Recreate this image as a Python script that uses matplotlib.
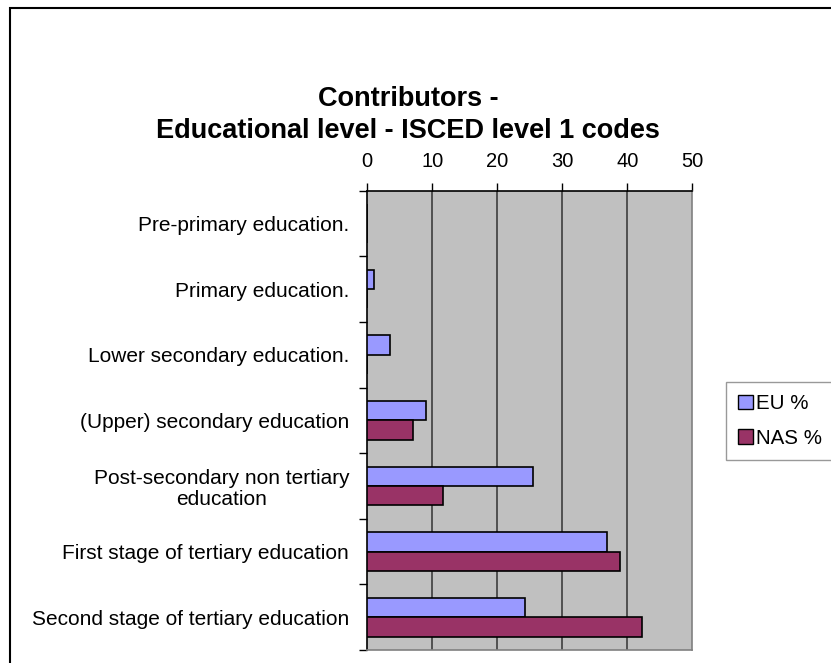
import matplotlib
matplotlib.use("Agg")
import matplotlib.pyplot as plt
from matplotlib.patches import Rectangle, Patch
import numpy as np

categories = [
    "Pre-primary education.",
    "Primary education.",
    "Lower secondary education.",
    "(Upper) secondary education",
    "Post-secondary non tertiary\neducation",
    "First stage of tertiary education",
    "Second stage of tertiary education",
]
eu_pct = [0, 1.1, 3.5, 9.0, 25.5, 36.9, 24.2]
nas_pct = [0, 0, 0, 7.1, 11.7, 38.8, 42.3]
series_names = ["EU %", "NAS %"]
x_ticks = [0, 10, 20, 30, 40, 50]
title_lines = ["Contributors -", "Educational level - ISCED level 1 codes"]

plt.rcParams["font.family"] = ["Liberation Sans", "DejaVu Sans"]

W, H = 831, 663
fig = plt.figure(figsize=(W / 100, H / 100), dpi=100)
fig.patch.set_facecolor("white")

# outer chart frame
fig.add_artist(Rectangle((9.5 / W, -0.1), 1.2, 1.1 - 8.5 / H,
                         transform=fig.transFigure, fill=False,
                         edgecolor="black", linewidth=1.5, clip_on=False))

ax = fig.add_axes([367.3 / W, 1 - 650 / H, 325 / W, (650 - 190.7) / H])
ax.set_facecolor("#C0C0C0")

y = np.arange(len(categories))
bh = 0.295
ax.barh(y - bh / 2, eu_pct, height=bh, color="#9999FF", edgecolor="black",
        linewidth=1.2, label=series_names[0], zorder=3)
ax.barh(y + bh / 2, nas_pct, height=bh, color="#993366", edgecolor="black",
        linewidth=1.2, label=series_names[1], zorder=3)

ax.set_xlim(0, 50)
ax.set_ylim(len(categories) - 0.5, -0.5)

ax.xaxis.tick_top()
ax.set_xticks(x_ticks)
ax.set_xticklabels([str(v) for v in x_ticks])
ax.tick_params(axis="x", direction="out", length=5.5, width=1, pad=9,
               labelsize=14.5, colors="black")
for xv in x_ticks[1:-1]:
    ax.axvline(xv, color="#333333", linewidth=1.1, zorder=1)

ax.set_yticks(y)
ax.set_yticklabels(categories, multialignment="center", linespacing=1.15)
ax.tick_params(axis="y", which="major", length=0, pad=13, labelsize=15)
ax.set_yticks(np.arange(len(categories) + 1) - 0.5, minor=True)
ax.tick_params(axis="y", which="minor", direction="out", length=5.5, width=1)

ax.spines["top"].set_color("black")
ax.spines["left"].set_color("black")
ax.spines["right"].set_color("#808080")
ax.spines["bottom"].set_color("#808080")
for s in ax.spines.values():
    s.set_linewidth(1.2)

fig.text(408 / W, 1 - 98.5 / H, title_lines[0], ha="center", va="center",
         fontsize=19.5, fontweight="bold")
fig.text(408 / W, 1 - 130.5 / H, title_lines[1], ha="center", va="center",
         fontsize=19.5, fontweight="bold")

handles = [Patch(facecolor="#9999FF", edgecolor="black", label=series_names[0]),
           Patch(facecolor="#993366", edgecolor="black", label=series_names[1])]
leg = fig.legend(handles=handles, loc="upper left",
                 bbox_to_anchor=(726 / W, 1 - 382 / H), fontsize=14.8,
                 frameon=True, fancybox=False, edgecolor="#808080",
                 handlelength=0.7, handleheight=0.7, handletextpad=0.15,
                 borderpad=0.6, labelspacing=0.75, borderaxespad=0)
leg.get_frame().set_linewidth(1.0)

fig.savefig("out.png", dpi=100)
